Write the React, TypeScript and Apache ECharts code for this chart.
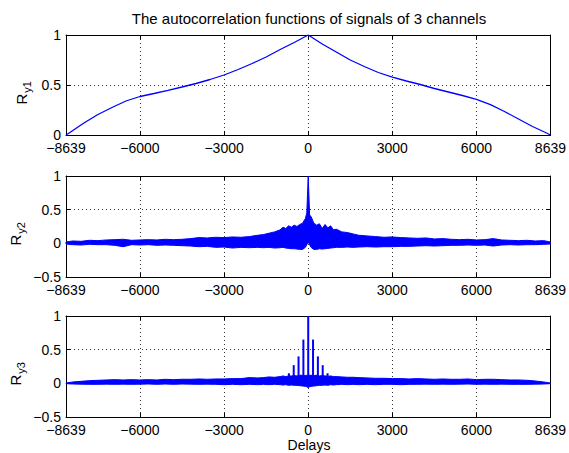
import React, { useEffect, useRef } from 'react';
import * as echarts from 'echarts';

const TITLE = 'The autocorrelation functions of signals of 3 channels';
const X_LABEL = 'Delays';
const X_TICKS = [-8639, -6000, -3000, 0, 3000, 6000, 8639];
const Y_SUBS = ['y1', 'y2', 'y3'];
const Y_MINS = [0, -0.5, -0.5];

// Ry1: smooth autocorrelation curve
const RY1_X = [-8639, -8500, -8000, -7500, -7000, -6500, -6000, -5500, -5000, -4500, -4000, -3500, -3000, -2500, -2000, -1500, -1000, -500, 0,
  500, 1000, 1500, 2000, 2500, 3000, 3500, 4000, 4500, 5000, 5500, 6000, 6500, 7000, 7500, 8000, 8500, 8639];
const RY1_Y = [0, 0.025, 0.12, 0.205, 0.275, 0.34, 0.385, 0.415, 0.447, 0.48, 0.515, 0.555, 0.6, 0.655, 0.715, 0.78, 0.855, 0.925, 1.0,
  0.91, 0.83, 0.75, 0.685, 0.625, 0.578, 0.54, 0.505, 0.465, 0.43, 0.395, 0.357, 0.303, 0.235, 0.16, 0.085, 0.02, 0];

// Envelope sample delays for the noisy channels
const ENV_X = [-8639, -8400, -8100, -7800, -7500, -7200, -6900, -6600, -6300, -6000, -5700, -5400, -5100, -4800, -4500, -4200, -3900, -3600, -3300, -3000,
  -2700, -2400, -2100, -1800, -1600, -1400, -1200, -1000, -900, -800, -700, -600, -500, -400, -300, -200, -100, -50,
  0,
  50, 100, 200, 300, 400, 500, 600, 700, 800, 900, 1000, 1200, 1400, 1600, 1800, 2100, 2400, 2700, 3000, 3300,
  3600, 3900, 4200, 4500, 4800, 5100, 5400, 5700, 6000, 6300, 6600, 6900, 7200, 7500, 7800, 8100, 8400, 8639];

// Ry2 upper / lower envelope
const RY2_HI = [0.02, 0.035, 0.03, 0.045, 0.04, 0.05, 0.055, 0.06, 0.045, 0.05, 0.055, 0.05, 0.06, 0.055, 0.06, 0.07, 0.085, 0.08, 0.09, 0.085,
  0.095, 0.09, 0.1, 0.12, 0.13, 0.15, 0.17, 0.2, 0.24, 0.22, 0.26, 0.24, 0.27, 0.25, 0.28, 0.3, 0.37, 0.45,
  1.0,
  0.42, 0.4, 0.3, 0.27, 0.29, 0.22, 0.28, 0.23, 0.26, 0.2, 0.21, 0.17, 0.16, 0.14, 0.12, 0.11, 0.1, 0.09, 0.095, 0.085,
  0.08, 0.075, 0.08, 0.065, 0.07, 0.06, 0.055, 0.06, 0.05, 0.055, 0.07, 0.05, 0.045, 0.04, 0.045, 0.035, 0.04, 0.02];
const RY2_LO = [-0.01, -0.02, -0.025, -0.015, -0.02, -0.02, -0.03, -0.05, -0.02, -0.025, -0.02, -0.03, -0.025, -0.03, -0.035, -0.04, -0.05, -0.045, -0.06, -0.055,
  -0.07, -0.06, -0.065, -0.06, -0.065, -0.06, -0.07, -0.065, -0.06, -0.07, -0.075, -0.08, -0.08, -0.085, -0.09, -0.09, -0.06, -0.02,
  0.02,
  -0.02, -0.06, -0.09, -0.09, -0.08, -0.085, -0.08, -0.075, -0.07, -0.065, -0.06, -0.06, -0.055, -0.06, -0.055, -0.05, -0.055, -0.05, -0.05, -0.045,
  -0.045, -0.04, -0.035, -0.04, -0.035, -0.03, -0.03, -0.025, -0.03, -0.025, -0.04, -0.025, -0.02, -0.025, -0.02, -0.02, -0.015, -0.01];

// Ry3 upper / lower envelope
const RY3_HI = [0.005, 0.02, 0.03, 0.04, 0.045, 0.05, 0.055, 0.05, 0.055, 0.05, 0.055, 0.05, 0.06, 0.055, 0.06, 0.06, 0.065, 0.06, 0.065, 0.065,
  0.07, 0.07, 0.085, 0.08, 0.085, 0.095, 0.09, 0.1, 0.11, 0.1, 0.11, 0.11, 0.115, 0.11, 0.12, 0.12, 0.115, 0.12,
  0.12,
  0.12, 0.12, 0.115, 0.12, 0.11, 0.115, 0.11, 0.105, 0.11, 0.1, 0.1, 0.095, 0.09, 0.09, 0.085, 0.08, 0.075, 0.075, 0.07, 0.07,
  0.065, 0.07, 0.065, 0.06, 0.065, 0.06, 0.06, 0.065, 0.055, 0.06, 0.06, 0.055, 0.05, 0.05, 0.045, 0.035, 0.02, 0.005];
const RY3_LO = [-0.005, -0.01, -0.012, -0.015, -0.015, -0.012, -0.015, -0.012, -0.015, -0.012, -0.01, -0.015, -0.01, -0.015, -0.01, -0.012, -0.015, -0.012, -0.015, -0.02,
  -0.015, -0.02, -0.015, -0.02, -0.015, -0.02, -0.015, -0.02, -0.025, -0.02, -0.03, -0.025, -0.03, -0.03, -0.035, -0.04, -0.045, -0.05,
  -0.066,
  -0.05, -0.045, -0.04, -0.035, -0.03, -0.03, -0.025, -0.03, -0.02, -0.025, -0.02, -0.015, -0.02, -0.015, -0.02, -0.015, -0.02, -0.015, -0.015, -0.02,
  -0.015, -0.015, -0.012, -0.015, -0.012, -0.015, -0.012, -0.01, -0.015, -0.012, -0.015, -0.012, -0.015, -0.015, -0.015, -0.012, -0.01, -0.005];

// Ry3 periodic peaks
const RY3_SPIKE_X = [-690, -517, -345, -172, 0, 172, 345, 517, 690];
const RY3_SPIKE_Y = [0.15, 0.27, 0.4, 0.65, 1.0, 0.65, 0.4, 0.27, 0.15];

const FONT = '"Liberation Sans", Arial, Helvetica, sans-serif';
const BLUE = '#0000ff';
const fmt = (v: number) => (v < 0 ? '\u2212' + String(-v) : String(v));

export default function App() {
  const ref = useRef<HTMLDivElement>(null);
  useEffect(() => {
    if (!ref.current) return;
    const chart = echarts.init(ref.current, undefined, { renderer: 'svg' });
    const tops = [35, 176, 316];
    const heights = [100, 101, 101];
    const grids = tops.map((t, i) => ({ left: 66, right: 17, top: t, height: heights[i] }));
    const xAxes: any[] = [];
    const yAxes: any[] = [];
    tops.forEach((_, i) => {
      const tick = { show: true, inside: true, length: 4, lineStyle: { color: '#000', width: 1 } };
      const line = { show: true, onZero: false, lineStyle: { color: '#000', width: 1 } };
      const split = { show: true, lineStyle: { color: '#333', type: [1, 3], width: 1 } };
      xAxes.push({
        type: 'value', gridIndex: i, min: -8639, max: 8639, position: 'bottom',
        axisLine: line,
        axisTick: { ...tick, customValues: X_TICKS },
        axisLabel: { customValues: X_TICKS, formatter: fmt, color: '#000', fontSize: 14, lineHeight: 11, fontFamily: FONT, margin: 7, hideOverlap: false },
        splitLine: split,
      });
      xAxes.push({
        type: 'value', gridIndex: i, min: -8639, max: 8639, position: 'top',
        axisLine: line,
        axisTick: { ...tick, customValues: X_TICKS },
        axisLabel: { show: false },
        splitLine: { show: false },
      });
      yAxes.push({
        type: 'value', gridIndex: i, min: Y_MINS[i], max: 1, interval: 0.5, position: 'left',
        axisLine: line, axisTick: tick,
        axisLabel: { formatter: fmt, color: '#000', fontSize: 14, lineHeight: 10, fontFamily: FONT, margin: 5, showMinLabel: true, showMaxLabel: true },
        splitLine: split,
      });
      yAxes.push({
        type: 'value', gridIndex: i, min: Y_MINS[i], max: 1, interval: 0.5, position: 'right',
        axisLine: line, axisTick: tick, axisLabel: { show: false }, splitLine: { show: false },
      });
    });

    // filled band between lower and upper envelopes, one polygon through the axis scales
    const band = (hi: number[], lo: number[], axis: number) => ({
      type: 'custom', xAxisIndex: axis, yAxisIndex: axis, z: 3,
      data: ENV_X.map((x, k) => [x, lo[k], hi[k]]),
      encode: { x: 0, y: [1, 2] },
      renderItem: (params: any, api: any) => {
        if (params.dataIndex !== 0) return null;
        const top = ENV_X.map((x, k) => api.coord([x, hi[k]]));
        const bottom = ENV_X.map((x, k) => api.coord([x, lo[k]])).reverse();
        return {
          type: 'polygon',
          shape: { points: top.concat(bottom) },
          style: { fill: BLUE, stroke: BLUE, lineWidth: 1 },
        };
      },
    });

    const txt = (text: string, x: number, y: number, size: number, rot = 0, lh?: number) => ({
      type: 'text', x, y, rotation: rot, silent: true,
      style: { text, fontSize: size, lineHeight: lh, fontFamily: FONT, fill: '#000', align: 'center', verticalAlign: 'middle', textAlign: 'center', textVerticalAlign: 'middle' },
    });
    const R = Math.PI / 2;
    const labelPos = [[21, 99, 27, 87], [15, 240, 21, 228], [15, 380, 21, 368]];
    const graphics: any[] = [txt(TITLE, 309, 18, 15), txt(X_LABEL, 309, 445, 14, 0, 12)];
    labelPos.forEach((p, i) => {
      graphics.push(txt('R', p[0], p[1], 15, R));
      graphics.push(txt(Y_SUBS[i], p[2], p[3], 11, R));
    });

    chart.setOption({
      animation: false,
      backgroundColor: '#fff',
      grid: grids,
      xAxis: xAxes,
      yAxis: yAxes,
      graphic: graphics,
      series: [
        {
          type: 'line', xAxisIndex: 0, yAxisIndex: 0,
          data: RY1_X.map((x, k) => [x, RY1_Y[k]]), showSymbol: false, symbol: 'none',
          lineStyle: { color: BLUE, width: 1.3 },
        },
        band(RY2_HI, RY2_LO, 2),
        band(RY3_HI, RY3_LO, 4),
        {
          type: 'bar', xAxisIndex: 4, yAxisIndex: 4, barWidth: 2,
          data: RY3_SPIKE_X.map((x, k) => [x, RY3_SPIKE_Y[k]]),
          itemStyle: { color: BLUE }, z: 4,
        },
      ],
    });
    return () => chart.dispose();
  }, []);
  return <div ref={ref} style={{ position: 'absolute', left: 0, top: 0, width: 569, height: 453, background: '#fff' }} />;
}
